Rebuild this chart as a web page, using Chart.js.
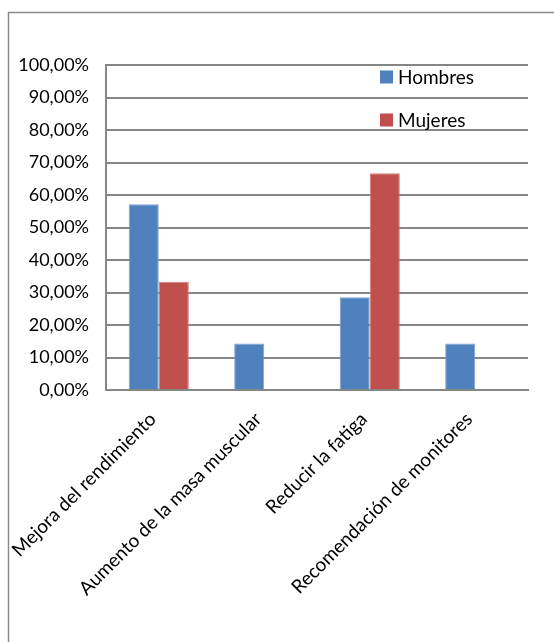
<!DOCTYPE html>
<html>
<head>
<meta charset="utf-8">
<script src="https://cdn.jsdelivr.net/npm/chart.js@4/dist/chart.umd.min.js"></script>
<style>
  html, body { margin: 0; padding: 0; background: #fff; }
  canvas { display: block; }
</style>
</head>
<body>
<canvas id="chart" width="554" height="642"></canvas>
<script>
'use strict';

const categories = [
  'Mejora del rendimiento',
  'Aumento de la masa muscular',
  'Reducir la fatiga',
  'Recomendación de monitores'
];
const hombres = [57.14, 14.29, 28.57, 14.29];
const mujeres = [33.33, 0, 66.67, 0];
const seriesNames = ['Hombres', 'Mujeres'];
const seriesColors = ['#4F81BD', '#C0504D'];
const seriesEdges = ['#7EA1CE', '#D17C79'];

const FONT = 'Lato, "Liberation Sans", sans-serif';
const GRID = '#868686';

// outer frame plus a legend stacked on the right, inside the plot
const frameAndLegend = {
  id: 'frameAndLegend',
  afterDraw(chart) {
    const ctx = chart.ctx;
    ctx.save();
    ctx.strokeStyle = '#8C8C8C';
    ctx.lineWidth = 1.5;
    ctx.beginPath();
    ctx.moveTo(8.5, 642);
    ctx.lineTo(8.5, 12.5);
    ctx.lineTo(554, 12.5);
    ctx.stroke();

    ctx.font = '19px ' + FONT;
    ctx.textBaseline = 'middle';
    chart.data.datasets.forEach((ds, i) => {
      const y = 77 + i * 43;
      ctx.fillStyle = ds.backgroundColor;
      ctx.fillRect(380, y - 6.5, 13, 13);
      ctx.fillStyle = '#000';
      ctx.fillText(ds.label, 398, y + 1);
    });
    ctx.restore();
  }
};

new Chart(document.getElementById('chart').getContext('2d'), {
  type: 'bar',
  data: {
    labels: categories,
    datasets: [
      {
        label: seriesNames[0],
        data: hombres,
        backgroundColor: seriesColors[0],
        borderColor: seriesEdges[0],
        borderWidth: 1
      },
      {
        label: seriesNames[1],
        data: mujeres,
        backgroundColor: seriesColors[1],
        borderColor: seriesEdges[1],
        borderWidth: 1
      }
    ]
  },
  options: {
    responsive: false,
    animation: false,
    layout: { padding: { left: 0, top: 65, right: 26, bottom: 0 } },
    plugins: {
      legend: { display: false },
      tooltip: { enabled: false }
    },
    datasets: {
      bar: { categoryPercentage: 0.57, barPercentage: 1 }
    },
    scales: {
      x: {
        afterFit(scale) {
          scale.height = 252;
          // rotated labels hang left of the plot; don't let them push it
          scale.paddingLeft = 0;
          scale.paddingRight = 0;
        },
        grid: { display: false, drawTicks: false },
        border: { display: true, color: GRID, width: 2 },
        ticks: {
          color: '#000',
          font: { family: FONT, size: 19 },
          maxRotation: 45,
          minRotation: 45,
          padding: 18,
          labelOffset: -6,
          autoSkip: false
        }
      },
      y: {
        min: 0,
        max: 100,
        afterFit(scale) { scale.width = 106; },
        grid: { color: GRID, lineWidth: 2, drawTicks: false },
        border: { display: true, color: GRID, width: 2 },
        ticks: {
          stepSize: 10,
          color: '#000',
          padding: 17,
          font: { family: FONT, size: 18 },
          callback: v => v.toFixed(2).replace('.', ',') + '%'
        }
      }
    }
  },
  plugins: [frameAndLegend]
});
</script>
</body>
</html>
